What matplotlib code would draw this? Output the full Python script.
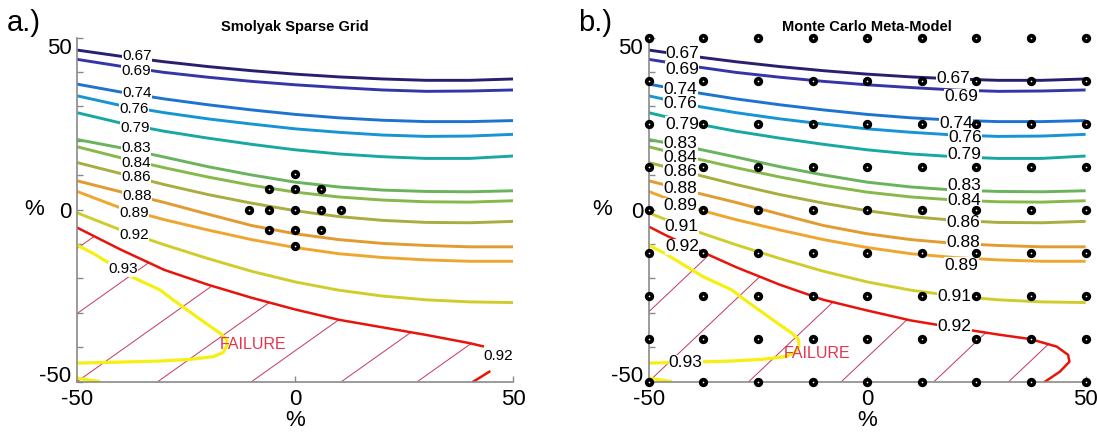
import numpy as np
import matplotlib.pyplot as plt
from matplotlib.patches import Polygon

plt.rcParams['font.family'] = ['Liberation Sans', 'DejaVu Sans']

# contour lines, y (%) at these x (%) columns
x_cols = [-50, -40, -30, -20, -10, 0, 10, 20, 30, 40, 50]

y_067 = [46.4, 44.6, 43.0, 41.6, 40.4, 39.4, 38.6, 38.0, 37.6, 37.6, 38.0]
y_069 = [43.7, 41.7, 39.9, 38.5, 37.3, 36.3, 35.5, 34.8, 34.4, 34.5, 34.8]
y_074 = [36.5, 34.2, 32.2, 30.5, 29.0, 27.7, 26.7, 26.0, 25.6, 25.6, 25.9]
y_076 = [33.1, 30.3, 28.2, 26.4, 24.9, 23.5, 22.5, 21.7, 21.3, 21.4, 21.9]
y_079 = [28.2, 25.2, 22.8, 20.8, 19.0, 17.4, 16.2, 15.4, 14.9, 14.9, 15.6]
y_083 = [20.4, 18.0, 15.3, 12.5, 10.1, 8.0, 6.6, 5.7, 5.3, 5.2, 5.5]
y_084 = [18.3, 15.1, 12.2, 9.5, 7.1, 5.1, 3.7, 2.8, 2.3, 2.2, 2.6]
y_086 = [13.7, 10.5, 7.3, 4.4, 1.9, -0.3, -2.0, -3.1, -3.7, -3.8, -3.4]
y_088 = [8.4, 5.2, 2.1, -1.3, -4.6, -7.0, -8.7, -9.8, -10.4, -10.8, -10.8]
y_089 = [5.3, 0.5, -2.9, -5.9, -8.7, -11.0, -12.8, -13.9, -14.6, -15.0, -15.0]
y_091 = [-0.9, -5.9, -10.2, -14.2, -17.9, -21.0, -23.4, -25.1, -26.2, -26.8, -27.0]

# 0.93 contour (folds back to the left axis) and its little piece on the bottom
x_093 = [-50, -46.3, -43.2, -37.5, -31, -27.9, -22.6, -19.5, -17.2, -15.7, -15.6,
         -16.5, -18.7, -24, -31, -40, -50]
y_093 = [-10.3, -12.7, -15.1, -19.5, -23.3, -26.3, -31.1, -33.9, -35.9, -37.8, -39.5,
         -41.5, -42.7, -43.5, -44.0, -44.3, -44.6]
x_093b = [-50, -45.1]
y_093b = [-49.0, -49.9]

# failure limit (0.92, red) for each panel
x_red_a = [-50, -40, -30, -20, -10, 0, 10, 20, 30, 40, 43]
y_red_a = [-5.2, -11.6, -17.5, -21.8, -25.6, -29.0, -32.0, -34.2, -36.4, -38.8, -39.7]
x_red_a2 = [40.8, 42.6, 44.5]
y_red_a2 = [-50, -48.6, -47.1]
x_red_b = [-50, -45.8, -40, -30, -20, -10, 0, 10, 20, 30, 37.3, 43.4, 46.0, 46.3, 44.1, 40.7]
y_red_b = [-4.9, -7.6, -11.0, -16.7, -21.8, -26.2, -29.3, -32.2, -34.3, -36.3, -37.6,
           -39.8, -42.2, -44.2, -47.1, -50.0]

# hatch lines: where they cross y = -50, and their slope
hatch_a_x0 = [-93, -72, -50, -31.5, -10, 10.6, 28]
hatch_a_slope = 0.9
hatch_b_x0 = [-66.9, -50, -27.1, -5.9, 15.3, 32.4]
hatch_b_slope = 1.2

# sample points
smolyak_x = [0, -6, 0, 6, -10.5, -6, 0, 6, 10.5, -6, 0, 6, 0]
smolyak_y = [10.5, 6, 6, 6, 0, 0, 0, 0, 0, -6, -6, -6, -10.5]
mc_grid = [-50, -37.5, -25, -12.5, 0, 12.5, 25, 37.5, 50]

# contour labels
lab_a_txt = ['0.67', '0.69', '0.74', '0.76', '0.79', '0.83', '0.84', '0.86', '0.88',
             '0.89', '0.92', '0.93']
lab_a_x = [-36.3, -36.5, -36.3, -36.9, -36.7, -36.5, -36.5, -36.5, -36.2, -36.9, -36.9, -39.5]
lab_a_y = [44.7, 40.4, 33.8, 29.2, 23.8, 17.8, 13.5, 9.4, 4.1, -0.9, -7.4, -17.3]

lab_b_txt = ['0.67', '0.69', '0.74', '0.76', '0.79', '0.83', '0.84', '0.86', '0.88', '0.89',
             '0.91', '0.92', '0.93',
             '0.67', '0.69', '0.74', '0.76', '0.79', '0.83', '0.84', '0.86', '0.88', '0.89',
             '0.91', '0.92']
lab_b_x = [-42.2, -42.4, -42.7, -42.7, -42.4, -42.7, -42.7, -42.7, -42.7, -42.7, -42.4, -42.4, -41.5,
           19.6, 21.6, 20.4, 22.4, 22.3, 22.3, 22.3, 22.1, 22.1, 21.6, 20.0, 20.0]
lab_b_y = [45.5, 40.8, 35.0, 30.9, 24.9, 19.3, 15.2, 11.0, 6.2, 1.1, -4.9, -10.8, -44.5,
           38.0, 32.8, 25.1, 21.0, 15.9, 6.9, 2.6, -3.8, -9.6, -16.1, -25.3, -34.0]

levels = [y_067, y_069, y_074, y_076, y_079, y_083, y_084, y_086, y_088, y_089, y_091]
colors = ['#28206f', '#3635a8', '#1c74cf', '#1794d4', '#17a8a2', '#69b35c', '#86b84a',
          '#a9ad3f', '#e39a2f', '#eea62f', '#cfcd2c']
yellow = '#f5f011'
red = '#e8140c'
hatch_col = '#c4365c'


def style_axes(ax, pct_x):
    ax.set_xlim(-50, 50)
    ax.set_ylim(-50, 50)
    for s in ['top', 'right']:
        ax.spines[s].set_visible(False)
    for s in ['left', 'bottom']:
        ax.spines[s].set_color('#8a8a8a')
        ax.spines[s].set_linewidth(1.2)
    ax.set_xticks([-50, 0, 50])
    ax.set_xticklabels(['-50', '0', '50'])
    ax.set_yticks(range(-50, 51, 10))
    ax.set_yticklabels(['-50', '', '', '', '', '0', '', '', '', '', '50'])
    ax.tick_params(direction='in', length=4, width=1, color='#8a8a8a', labelsize=16)
    ax.tick_params(axis='x', pad=5)
    ax.tick_params(axis='y', pad=4)
    ticks = ax.yaxis.get_major_ticks()
    ticks[0].label1.set_va('baseline')
    ticks[-1].label1.set_va('top')
    ax.set_xlabel('%', fontsize=16, labelpad=0)
    ax.xaxis.set_label_coords(0.5, -0.082)
    ax.set_ylabel('%', fontsize=16, rotation=0, va='center', ha='center')
    ax.yaxis.set_label_coords(pct_x, 0.5)


def draw_lines(ax, xr, yr):
    for ys, c in zip(levels, colors):
        ax.plot(x_cols, ys, color=c, lw=2.1, solid_capstyle='butt', zorder=2)
    ax.plot(x_093, y_093, color=yellow, lw=2.3, zorder=2)
    ax.plot(x_093b, y_093b, color=yellow, lw=2.3, zorder=2)
    ax.plot(xr, yr, color=red, lw=1.8, zorder=2)


def draw_hatch(ax, verts, x0s, slope):
    clip = Polygon(verts, closed=True, facecolor='none', edgecolor='none',
                   transform=ax.transData)
    for x0 in x0s:
        ln, = ax.plot([x0, x0 + 150], [-50, -50 + slope * 150], color=hatch_col,
                      lw=0.7, zorder=1)
        ln.set_clip_path(clip)


def draw_labels(ax, txt, xs, ys, size):
    for t, x, y in zip(txt, xs, ys):
        ax.text(x, y, t, fontsize=size, ha='center', va='center', zorder=3,
                bbox=dict(boxstyle='square,pad=0.02', fc='white', ec='none'))


fig = plt.figure(figsize=(10.97, 4.33), dpi=100)
ax_a = fig.add_axes([0.0702, 0.1185, 0.3977, 0.7945])
ax_b = fig.add_axes([0.5913, 0.1185, 0.3983, 0.7945])

dot_style = dict(ms=4, mfc='white', mec='black', mew=2.7, zorder=5)

# a.) Smolyak sparse grid
style_axes(ax_a, -0.099)
verts_a = list(zip(x_red_a, y_red_a)) + [(44.5, -47.1), (40.8, -50), (-50, -50)]
draw_hatch(ax_a, verts_a, hatch_a_x0, hatch_a_slope)
draw_lines(ax_a, x_red_a, y_red_a)
ax_a.plot(x_red_a2, y_red_a2, color=red, lw=1.8, zorder=2)
draw_labels(ax_a, lab_a_txt, lab_a_x, lab_a_y, 11)
ax_a.text(46.6, -42.5, '0.92', fontsize=11, ha='center', va='center')
ax_a.text(-9.7, -39.3, 'FAILURE', fontsize=11.5, color='#e6334d', ha='center', va='center')
ax_a.plot(smolyak_x, smolyak_y, 'o', **dot_style)
ax_a.set_title('Smolyak Sparse Grid', fontsize=10.5, fontweight='bold', pad=5)

# b.) Monte Carlo meta-model
style_axes(ax_b, -0.107)
verts_b = list(zip(x_red_b, y_red_b)) + [(-50, -50)]
draw_hatch(ax_b, verts_b, hatch_b_x0, hatch_b_slope)
draw_lines(ax_b, x_red_b, y_red_b)
draw_labels(ax_b, lab_b_txt, lab_b_x, lab_b_y, 12.5)
ax_b.text(-11.5, -41.7, 'FAILURE', fontsize=11.5, color='#e6334d', ha='center', va='center')
gx, gy = np.meshgrid(mc_grid, mc_grid)
ax_b.plot(gx.ravel(), gy.ravel(), 'o', clip_on=False, **dot_style)
ax_b.set_title('Monte Carlo Meta-Model', fontsize=10.5, fontweight='bold', pad=5)

fig.text(0.006, 0.948, 'a.)', fontsize=21, va='center')
fig.text(0.527, 0.948, 'b.)', fontsize=21, va='center')

fig.savefig('out.png', dpi=100)
